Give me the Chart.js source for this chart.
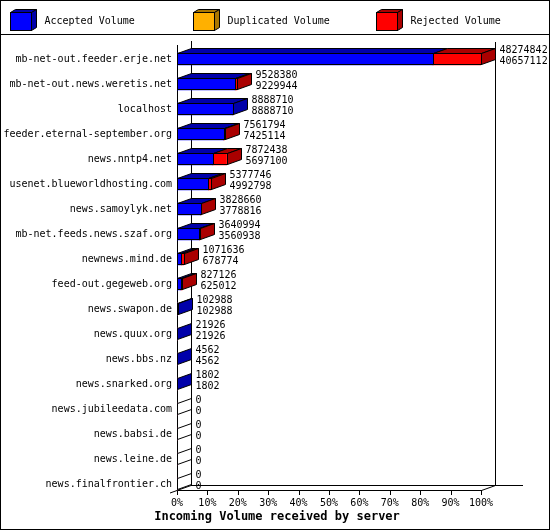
<!DOCTYPE html>
<html>
<head>
<meta charset="utf-8">
<script src="https://cdn.jsdelivr.net/npm/chart.js@4/dist/chart.umd.min.js"></script>
<style>
  html, body { margin: 0; padding: 0; background: #fff; }
</style>
</head>
<body>
<canvas id="myChart" width="550" height="530"></canvas>
<script>
var servers = [
  "mb-net-out.feeder.erje.net", "mb-net-out.news.weretis.net", "localhost",
  "feeder.eternal-september.org", "news.nntp4.net", "usenet.blueworldhosting.com",
  "news.samoylyk.net", "mb-net.feeds.news.szaf.org", "newnews.mind.de",
  "feed-out.gegeweb.org", "news.swapon.de", "news.quux.org", "news.bbs.nz",
  "news.snarked.org", "news.jubileedata.com", "news.babsi.de", "news.leine.de",
  "news.finalfrontier.ch"
];
// offered volume (upper label) and accepted volume (lower label)
var offered  = [48274842, 9528380, 8888710, 7561794, 7872438, 5377746, 3828660, 3640994, 1071636, 827126, 102988, 21926, 4562, 1802, 0, 0, 0, 0];
var accepted = [40657112, 9229944, 8888710, 7425114, 5697100, 4992798, 3778816, 3560938, 678774, 625012, 102988, 21926, 4562, 1802, 0, 0, 0, 0];
var duplicated = [0, 0, 0, 0, 0, 0, 0, 0, 0, 0, 0, 0, 0, 0, 0, 0, 0, 0];
var rejected = [7617730, 298436, 0, 136680, 2175338, 384948, 49844, 80056, 392862, 202114, 0, 0, 0, 0, 0, 0, 0, 0];
var xTicks = [0, 10, 20, 30, 40, 50, 60, 70, 80, 90, 100];
var axisTitle = 'Incoming Volume received by server';

var FRONT = ['#0000ff', '#ffb000', '#ff0000'];
var SHADE = ['#0000aa', '#aa7700', '#aa0000'];
var MONO = '"DejaVu Sans Mono", "Liberation Mono", monospace';
var DX = 14, DY = 5;

var maxVol = Math.max.apply(null, offered);
function pct(arr) { return arr.map(function (v) { return v / maxVol * 100; }); }

function px(v) { return Math.round(v) + 0.5; }

function poly(ctx, pts, fill) {
  ctx.beginPath();
  ctx.moveTo(pts[0][0], pts[0][1]);
  for (var i = 1; i < pts.length; i++) ctx.lineTo(pts[i][0], pts[i][1]);
  ctx.closePath();
  if (fill) { ctx.fillStyle = fill; ctx.fill(); }
  ctx.stroke();
}

function line(ctx, x1, y1, x2, y2) {
  ctx.beginPath();
  ctx.moveTo(x1, y1);
  ctx.lineTo(x2, y2);
  ctx.stroke();
}

var box3d = {
  id: 'box3d',
  beforeDatasetsDraw: function (chart) {
    var ctx = chart.ctx, a = chart.chartArea, xs = chart.scales.x;
    var last = chart.getDatasetMeta(0).data[servers.length - 1];
    var floor = Math.round(last.y + last.height / 2);
    var left = Math.round(a.left), right = Math.round(xs.getPixelForValue(100));
    var topF = Math.round(a.top) - 2;
    ctx.save();
    ctx.strokeStyle = '#000';
    ctx.lineWidth = 1;
    // back walls
    line(ctx, left + DX + 0.5, topF - 4, left + DX + 0.5, floor - DY + 0.5);
    line(ctx, right + DX + 0.5, topF - 3, right + DX + 0.5, floor - DY + 0.5);
    line(ctx, left + DX, floor - DY + 0.5, right + DX + 28, floor - DY + 0.5);
    // front axis
    line(ctx, left + 0.5, topF, left + 0.5, floor + 0.5);
    line(ctx, left, floor + 0.5, right + 0.5, floor + 0.5);
    line(ctx, left - 7, floor + 3, left + DX, floor - DY + 0.5);
    line(ctx, right + 0.5, floor + 0.5, right + DX + 0.5, floor - DY + 0.5);
    xs.ticks.forEach(function (t) {
      var x = px(xs.getPixelForValue(t.value));
      line(ctx, x, floor, x, floor + 5);
    });
    ctx.restore();
  },
  afterDatasetsDraw: function (chart) {
    var ctx = chart.ctx;
    var metas = [0, 1, 2].map(function (d) { return chart.getDatasetMeta(d); });
    ctx.save();
    ctx.strokeStyle = '#000';
    ctx.lineWidth = 1;
    for (var i = 0; i < servers.length; i++) {
      var segs = [];
      var el0 = metas[0].data[i];
      var top = Math.round(el0.y - el0.height / 2) + 0.5;
      var bot = Math.round(el0.y + el0.height / 2) - 0.5;
      var xEnd = px(Math.min(el0.base, el0.x));
      var shade = null;
      metas.forEach(function (m, d) {
        var el = m.data[i];
        if (Math.abs(el.x - el.base) > 0) {
          var x0 = px(Math.min(el.base, el.x)), x1 = px(Math.max(el.base, el.x));
          segs.push([x0, x1, d]);
          xEnd = x1;
          shade = SHADE[d];
        }
      });
      segs.forEach(function (s) {
        if (s[1] > s[0]) {
          poly(ctx, [[s[0], top], [s[1], top], [s[1] + DX, top - DY], [s[0] + DX, top - DY]], SHADE[s[2]]);
        }
      });
      poly(ctx, [[xEnd, top], [xEnd + DX, top - DY], [xEnd + DX, bot - DY], [xEnd, bot]], shade);
      segs.forEach(function (s) {
        if (s[1] > s[0]) ctx.strokeRect(s[0], top, s[1] - s[0], bot - top);
      });
      // value labels
      ctx.fillStyle = '#000';
      ctx.font = '10px ' + MONO;
      ctx.textAlign = 'left';
      ctx.textBaseline = 'middle';
      var cy = el0.y;
      ctx.fillText(String(offered[i]), xEnd + 18, cy - 9);
      ctx.fillText(String(accepted[i]), xEnd + 18, cy + 2);
    }
    ctx.restore();
  },
  afterDraw: function (chart) {
    var ctx = chart.ctx;
    ctx.save();
    ctx.strokeStyle = '#000';
    ctx.lineWidth = 1;
    ctx.strokeRect(0.5, 0.5, chart.width - 1, chart.height - 1);
    line(ctx, 0, 34.5, chart.width, 34.5);
    chart.data.datasets.forEach(function (ds, k) {
      var ix = 10 + 183 * k + 0.5, iy = 12.5, w = 21, h = 18;
      poly(ctx, [[ix, iy], [ix + w, iy], [ix + w + 5, iy - 3], [ix + 5, iy - 3]], SHADE[k]);
      poly(ctx, [[ix + w, iy], [ix + w + 5, iy - 3], [ix + w + 5, iy + h - 3], [ix + w, iy + h]], SHADE[k]);
      ctx.fillStyle = FRONT[k];
      ctx.fillRect(ix, iy, w, h);
      ctx.strokeRect(ix, iy, w, h);
      ctx.fillStyle = '#000';
      ctx.font = '10px ' + MONO;
      ctx.textAlign = 'left';
      ctx.textBaseline = 'middle';
      ctx.fillText(ds.label, ix + 34, 21);
    });
    // axis title, centred on the whole picture
    ctx.font = 'bold 12px ' + MONO;
    ctx.textAlign = 'center';
    ctx.textBaseline = 'middle';
    ctx.fillStyle = '#000';
    ctx.fillText(axisTitle, 277, 517);
    ctx.restore();
  }
};

new Chart("myChart", {
  type: "bar",
  data: {
    labels: servers,
    datasets: [
      { label: 'Accepted Volume', data: pct(accepted), backgroundColor: FRONT[0] },
      { label: 'Duplicated Volume', data: pct(duplicated), backgroundColor: FRONT[1] },
      { label: 'Rejected Volume', data: pct(rejected), backgroundColor: FRONT[2] }
    ]
  },
  options: {
    indexAxis: 'y',
    responsive: false,
    animation: false,
    devicePixelRatio: 1,
    barThickness: 12,
    borderWidth: 0,
    layout: { padding: { top: 46.5, right: 69, bottom: 0, left: 0 } },
    plugins: {
      legend: { display: false },
      tooltip: { enabled: false }
    },
    scales: {
      x: {
        type: 'linear',
        stacked: true,
        min: 0,
        max: 100,
        grid: { display: false, drawTicks: false },
        border: { display: false },
        afterBuildTicks: function (s) {
          s.ticks = xTicks.map(function (v) { return { value: v }; });
        },
        ticks: {
          autoSkip: false,
          maxRotation: 0,
          padding: 1,
          color: '#000',
          font: { family: MONO, size: 10 },
          callback: function (v) { return v + '%'; }
        },
        afterFit: function (s) { s.height = 33.5; }
      },
      y: {
        stacked: true,
        grid: { display: false, drawTicks: false },
        border: { display: false },
        ticks: {
          autoSkip: false,
          padding: 5,
          color: '#000',
          font: { family: MONO, size: 10 }
        },
        afterFit: function (s) { s.width = 177; }
      }
    }
  },
  plugins: [box3d]
});
</script>
</body>
</html>
